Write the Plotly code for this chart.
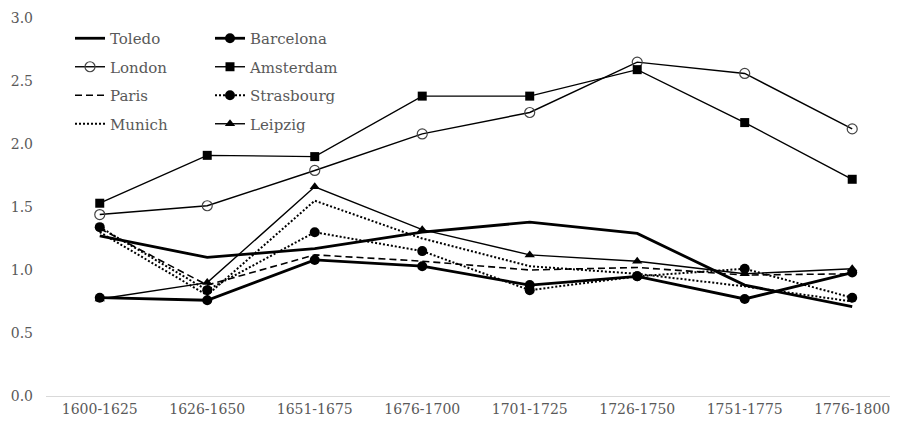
import plotly.graph_objects as go

periods = ["1600-1625", "1626-1650", "1651-1675", "1676-1700",
           "1701-1725", "1726-1750", "1751-1775", "1776-1800"]

toledo     = [1.27, 1.10, 1.17, 1.30, 1.38, 1.29, 0.88, 0.71]
barcelona  = [0.78, 0.76, 1.08, 1.03, 0.88, 0.95, 0.77, 0.98]
london     = [1.44, 1.51, 1.79, 2.08, 2.25, 2.65, 2.56, 2.12]
amsterdam  = [1.53, 1.91, 1.90, 2.38, 2.38, 2.59, 2.17, 1.72]
paris      = [1.33, 0.88, 1.12, 1.07, 1.00, 1.02, 0.96, 0.97]
strasbourg = [1.34, 0.84, 1.30, 1.15, 0.84, 0.95, 1.01, 0.78]
munich     = [1.30, 0.80, 1.55, 1.25, 1.03, 0.97, 0.87, 0.75]
leipzig    = [0.77, 0.90, 1.66, 1.32, 1.12, 1.07, 0.97, 1.01]

FONT = "DejaVu Serif"
GRAY = "#595959"
BLK = "#000000"

# the page body has an 8px default margin; size the figure to fit the window
W, H = 890, 413

fig = go.Figure()

def add(name, y, width, dash="solid", marker=None, legend="legend"):
    mode = "lines+markers" if marker else "lines"
    kw = dict(x=periods, y=y, name=name, mode=mode,
              line=dict(color=BLK, width=width, dash=dash),
              legend=legend, legendgroup=name)
    if marker:
        kw["marker"] = marker
    fig.add_trace(go.Scatter(**kw))

add("Toledo", toledo, 2.8)
add("London", london, 1.4,
    marker=dict(symbol="circle-open", size=10, color="#444444", line=dict(width=1.2)))
add("Paris", paris, 1.6, dash="7px,4px")
add("Munich", munich, 2.0, dash="2px,2px")

add("Barcelona", barcelona, 2.8,
    marker=dict(symbol="circle", size=10, color=BLK), legend="legend2")
add("Amsterdam", amsterdam, 1.4,
    marker=dict(symbol="square", size=9, color=BLK), legend="legend2")
add("Strasbourg", strasbourg, 2.0, dash="2px,2px",
    marker=dict(symbol="circle", size=10, color=BLK), legend="legend2")
add("Leipzig", leipzig, 1.4,
    marker=dict(symbol="triangle-up", size=9, color=BLK), legend="legend2")

legend_common = dict(
    font=dict(family=FONT, size=15, color=GRAY),
    bgcolor="rgba(0,0,0,0)", borderwidth=0,
    itemwidth=30, tracegroupgap=6,
    xref="container", yref="container",
    xanchor="left", yanchor="top",
)

fig.update_layout(
    width=W, height=H,
    margin=dict(l=38, r=0, t=10, b=25, autoexpand=False),
    paper_bgcolor="white", plot_bgcolor="white",
    font=dict(family=FONT, size=14, color=GRAY),
    showlegend=True,
    legend=dict(x=62 / W, y=1 - 14 / H, **legend_common),
    legend2=dict(x=202 / W, y=1 - 14 / H, **legend_common),
    xaxis=dict(
        type="category", range=[-0.5, 7.426],
        showgrid=False, zeroline=False,
        showline=True, linecolor="#d9d9d9", linewidth=1,
        ticks="", tickangle=0,
        tickfont=dict(family=FONT, size=14, color=GRAY),
    ),
    yaxis=dict(
        range=[0, 3.0], dtick=0.5, tickformat=".1f",
        showgrid=False, zeroline=False, showline=False,
        ticks="", ticklabelstandoff=12,
        tickfont=dict(family=FONT, size=14, color=GRAY),
    ),
)

fig.write_html("out.html")
